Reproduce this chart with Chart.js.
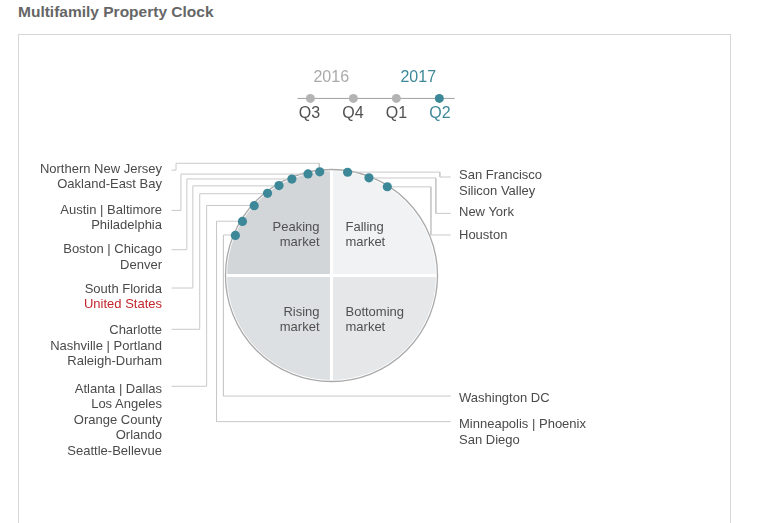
<!DOCTYPE html>
<html><head><meta charset="utf-8">
<script src="https://cdn.jsdelivr.net/npm/chart.js@4.4.1/dist/chart.umd.min.js"></script>
<style>
html,body{margin:0;padding:0;background:#fff;}
body{width:768px;height:523px;overflow:hidden;position:relative;font-family:"Liberation Sans",Arial,Helvetica,sans-serif;}
#title{position:absolute;left:18px;top:3px;font-weight:bold;font-size:15.5px;line-height:18px;color:#666;white-space:nowrap;}
#frame{position:absolute;left:18px;top:34px;width:713px;height:540px;border:1px solid #d6d6d6;box-sizing:border-box;}
#pieBox{position:absolute;}
#overlay{position:absolute;left:0;top:0;}
.t{position:absolute;white-space:nowrap;font-size:13px;color:#4a4a4a;}
.yr{position:absolute;white-space:nowrap;font-size:16px;}
</style>
</head><body>
<div id="title">Multifamily Property Clock</div>
<div id="frame"></div>
<div id="pieBox"><canvas id="pie"></canvas></div>
<canvas id="overlay" width="768" height="523" style="width:768px;height:523px"></canvas>
<div id="texts"></div>
<script>
// ---------------- DATA ----------------
const quadrantNames = ["Falling market","Bottoming market","Rising market","Peaking market"]; // clockwise from 12 o'clock
const quadrantShares = [25,25,25,25];
const quarterLabels = ["Q3","Q4","Q1","Q2"];
const quarterYears = ["2016","2016","2017","2017"];
const yearLabels = ["2016","2017"];
const currentQuarter = 3;

const leftGroups = [
  ["Northern New Jersey","Oakland-East Bay"],
  ["Austin | Baltimore","Philadelphia"],
  ["Boston | Chicago","Denver"],
  ["South Florida","United States"],
  ["Charlotte","Nashville | Portland","Raleigh-Durham"],
  ["Atlanta | Dallas","Los Angeles","Orange County","Orlando","Seattle-Bellevue"]
];
const leftAngles = [353.2, 346.7, 337.4, 329.5, 321.9, 311.9]; // clock position in degrees
const rightGroups = [["San Francisco","Silicon Valley"],["New York"],["Houston"]];
const rightAngles = [8.5, 20.6, 31.8];
const bottomGroups = [["Washington DC"],["Minneapolis | Phoenix","San Diego"]];
const bottomAngles = [292.5, 301.1];
const highlighted = ["United States"];

// ---------------- LAYOUT ----------------
const W = 768, H = 523;
const CX = 331.5, CY = 275.5, R = 106, PIE_BORDER = 3;
const TEAL = "#3d8898", LEADER = "#c9c9c9", TEXT = "#4a4a4a";
const LINE_H = 15.5;
const leftLabelRight = 162, leftStubX = 169.5;
const leftFirstY = [168.5, 209.5, 249, 288.5, 330, 388.5];
const leftElbowX = [173.5, 178.5, 184.5, 190.5, 197.5, 204.5];
const topRouteY = 161.5; // first leader passes above its dot
const rightLabelX = 459, rightStubX = 451.5;
const rightFirstY = [175, 212, 234.5];
const rightElbowX = [440.5, 436.5, 431.5];
const bottomFirstY = [398, 424];
const bottomElbowX = [221.5, 214.5];
const tlY = 95.5, tlX0 = 309.5, tlStep = 43.5, tlLineX = [296.5, 455.5];

function clockPoint(deg){
  const a = deg*Math.PI/180;
  return {x: CX + R*Math.sin(a), y: CY - R*Math.cos(a)};
}
const r5 = v => Math.round(v-0.5)+0.5;

// ---------------- PIE ----------------
const pieSize = 2*R + PIE_BORDER;
const pieBox = document.getElementById('pieBox');
pieBox.style.left = (CX - pieSize/2) + 'px';
pieBox.style.top = (CY - pieSize/2) + 'px';
pieBox.style.width = pieSize + 'px';
pieBox.style.height = pieSize + 'px';
const pieCanvas = document.getElementById('pie');
pieCanvas.width = pieSize; pieCanvas.height = pieSize;
pieCanvas.style.width = pieSize+'px'; pieCanvas.style.height = pieSize+'px';

const outlinePlugin = {
  id:'outline',
  afterDatasetsDraw(chart){
    const arc = chart.getDatasetMeta(0).data[0];
    if(!arc) return;
    const ctx = chart.ctx;
    ctx.save();
    ctx.beginPath();
    ctx.arc(arc.x, arc.y, arc.outerRadius, 0, Math.PI*2);
    ctx.strokeStyle = '#a9a9a9';
    ctx.lineWidth = 1.3;
    ctx.stroke();
    ctx.restore();
  }
};
new Chart(pieCanvas, {
  type:'pie',
  data:{labels:quadrantNames, datasets:[{data:quadrantShares,
    backgroundColor:['#f1f2f4','#e6e7e9','#dde0e3','#d3d6d9'],
    borderColor:'#ffffff', borderWidth:PIE_BORDER, hoverOffset:0}]},
  options:{responsive:false, animation:false, events:[], layout:{padding:0},
    plugins:{legend:{display:false}, tooltip:{enabled:false}}},
  plugins:[outlinePlugin]
});

// ---------------- OVERLAY (dots, leaders, timeline) ----------------
const datasets = [];
const dotPts = [];
const leaderSets = [];
function leader(pts){
  leaderSets.push({type:'scatter', data:pts, showLine:true, borderColor:LEADER, borderWidth:1,
    pointRadius:0, fill:false, tension:0, order:3, clip:false});
}
leftAngles.forEach((ang,i)=>{
  const p = clockPoint(ang); dotPts.push(p);
  const hy = i===0 ? topRouteY : r5(p.y);
  const pts = [{x:leftStubX-0.5,y:r5(leftFirstY[i])},{x:leftElbowX[i],y:r5(leftFirstY[i])},{x:leftElbowX[i],y:hy},{x:i===0?r5(p.x):p.x,y:hy}];
  if(i===0) pts.push({x:r5(p.x),y:p.y});
  leader(pts);
});
rightAngles.forEach((ang,i)=>{
  const p = clockPoint(ang); dotPts.push(p);
  const hy = r5(p.y);
  leader([{x:p.x,y:hy},{x:rightElbowX[i],y:hy},{x:rightElbowX[i],y:r5(rightFirstY[i])},{x:rightStubX,y:r5(rightFirstY[i])}]);
});
bottomAngles.forEach((ang,i)=>{
  const p = clockPoint(ang); dotPts.push(p);
  const hy = r5(p.y);
  leader([{x:p.x,y:hy},{x:bottomElbowX[i],y:hy},{x:bottomElbowX[i],y:r5(bottomFirstY[i])},{x:rightStubX,y:r5(bottomFirstY[i])}]);
});
datasets.push({type:'scatter', data:dotPts, pointRadius:4.6, pointBackgroundColor:TEAL, pointBorderWidth:0, order:0, clip:false});
const tlPts = quarterLabels.map((q,i)=>({x:tlX0 + i*tlStep, y:tlY}));
datasets.push({type:'scatter', data:tlPts, pointRadius:4.5, pointBorderWidth:0,
  pointBackgroundColor:quarterLabels.map((q,i)=> i===currentQuarter?TEAL:'#b3b3b3'), order:1, clip:false});
datasets.push({type:'scatter', data:[{x:tlLineX[0],y:tlY},{x:tlLineX[1],y:tlY}], showLine:true,
  borderColor:'#a0a0a0', borderWidth:1, pointRadius:0, order:2, clip:false});
leaderSets.forEach(d=>datasets.push(d));

new Chart(document.getElementById('overlay'), {
  type:'scatter',
  data:{datasets},
  options:{responsive:false, animation:false, events:[], layout:{padding:0},
    plugins:{legend:{display:false}, tooltip:{enabled:false}},
    scales:{x:{type:'linear',min:0,max:W,display:false}, y:{type:'linear',min:0,max:H,reverse:true,display:false}}}
});

// ---------------- TEXT ----------------
const texts = document.getElementById('texts');
function addText(str, x, cy, align, cls, color, lh){
  const d = document.createElement('div');
  d.className = cls || 't';
  d.textContent = str;
  lh = lh || LINE_H;
  d.style.lineHeight = lh+'px';
  d.style.top = (cy - lh/2) + 'px';
  if(align==='right'){ d.style.right = (W - x)+'px'; }
  else if(align==='center'){ d.style.left = (x-100)+'px'; d.style.width='200px'; d.style.textAlign='center'; }
  else { d.style.left = x+'px'; }
  if(color) d.style.color = color;
  texts.appendChild(d);
}
leftGroups.forEach((g,i)=> g.forEach((s,j)=> addText(s, leftLabelRight, leftFirstY[i]+j*LINE_H, 'right', 't', highlighted.includes(s)?'#c1272d':TEXT)));
rightGroups.forEach((g,i)=> g.forEach((s,j)=> addText(s, rightLabelX, rightFirstY[i]+j*LINE_H, 'left', 't', TEXT)));
bottomGroups.forEach((g,i)=> g.forEach((s,j)=> addText(s, rightLabelX, bottomFirstY[i]+j*LINE_H, 'left', 't', TEXT)));

// quadrant labels
const qPos = [
  {x:345.5, y:227.3, align:'left'},   // Falling
  {x:345.5, y:312.3, align:'left'},   // Bottoming
  {x:319.5, y:312.3, align:'right'},  // Rising
  {x:319.5, y:227.3, align:'right'}   // Peaking
];
quadrantNames.forEach((n,i)=>{
  const words = n.split(' ');
  words.forEach((w,j)=> addText(w, qPos[i].x, qPos[i].y + j*14.5, qPos[i].align, 't', '#505050', 14.5));
});

// timeline labels
quarterLabels.forEach((q,i)=> addText(q, tlPts[i].x, 113, 'center', 'yr', i===currentQuarter?TEAL:'#505050', 18));
yearLabels.forEach(y=>{
  const xs = tlPts.filter((p,i)=>quarterYears[i]===y).map(p=>p.x);
  const mx = xs.reduce((a,b)=>a+b,0)/xs.length;
  const isCur = quarterYears[currentQuarter]===y;
  addText(y, mx, 77, 'center', 'yr', isCur?TEAL:'#aaaaaa', 18);
});
</script>
</body></html>
